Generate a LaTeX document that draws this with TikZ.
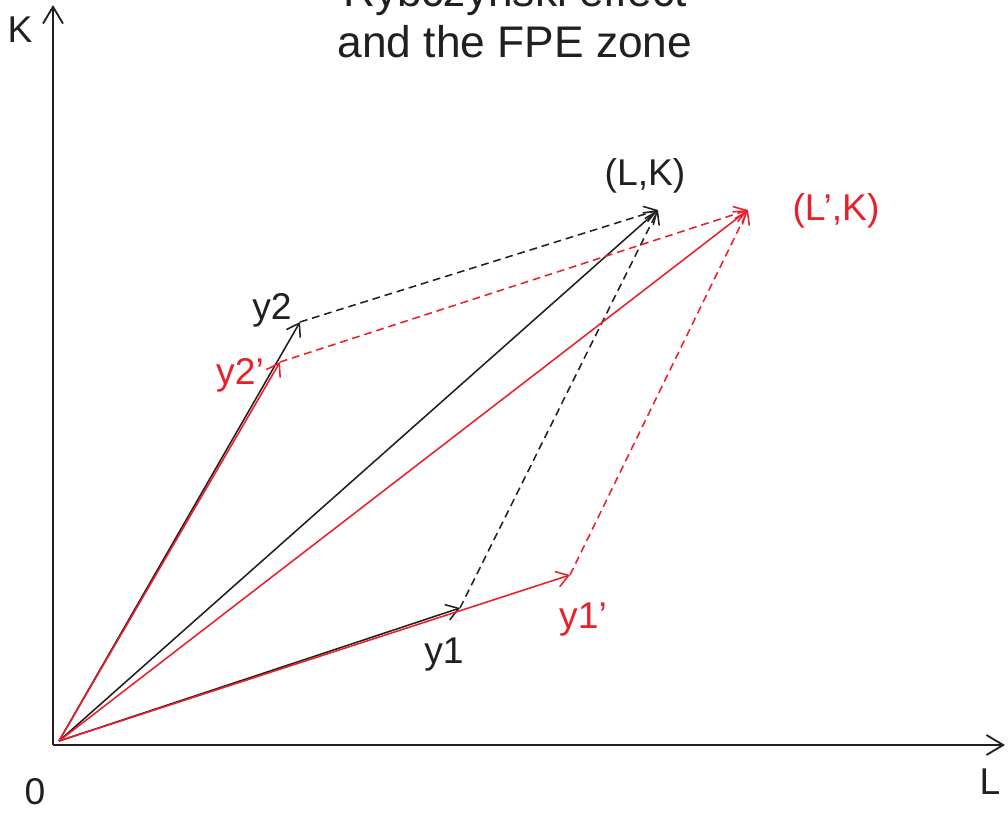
\documentclass[tikz,border=0pt]{standalone}
\usepackage{fontspec}
\setmainfont{Liberation Sans}
\usetikzlibrary{arrows.meta}
\definecolor{rbink}{HTML}{231F20}
\definecolor{rbred}{HTML}{E8202A}
\tikzset{
  axis/.style   ={line width=1.3pt,draw=rbink,-{Straight Barb[length=4.2mm,width=5mm]}},
  vec/.style    ={line width=1.1pt,draw=rbink,-{Straight Barb[length=3mm,width=4mm]}},
  vecred/.style ={vec,draw=rbred},
  dvec/.style   ={vec,dash pattern=on 5.5pt off 3.5pt},
  dvecred/.style={dvec,draw=rbred},
  lbl/.style    ={font=\fontsize{26.5}{31}\selectfont,text=rbink,inner sep=0pt},
  lblred/.style ={lbl,text=rbred},
}
\begin{document}
\begin{tikzpicture}[x=0.025cm,y=-0.025cm]
  \useasboundingbox (0,0) rectangle (1008,812);
  \clip (0,0) rectangle (1008,812);

  % axes
  \coordinate (orig) at (53,745);
  \coordinate (ktop) at (53,5);
  \coordinate (lend) at (1005,745);
  \draw[axis] (orig) -- (ktop);
  \draw[axis] (orig) -- (lend);

  % endowment and output points
  \coordinate (o)    at (59,741);
  \coordinate (y1)   at (460,608);
  \coordinate (y2)   at (300,322);
  \coordinate (lk)   at (658,210);
  \coordinate (y1p)  at (570,575);
  \coordinate (y2p)  at (280,362);
  \coordinate (lpk)  at (748,210);

  % before
  \draw[vec]  (o) -- (y1);
  \draw[vec]  (o) -- (y2);
  \draw[vec]  (o) -- (lk);
  \draw[dvec] (y1) -- (lk);
  \draw[dvec] (y2) -- (lk);
  % after the rise in L
  \draw[vecred]  (o) -- (y1p);
  \draw[vecred]  (o) -- (y2p);
  \draw[vecred]  (o) -- (lpk);
  \draw[dvecred] (y1p) -- (lpk);
  \draw[dvecred] (y2p) -- (lpk);

  % labels
  \node[lbl] (klbl) at (20,30) {K};
  \node[lbl] (zlbl) at (35,792) {0};
  \node[lbl] (llbl) at (990,782) {L};
  \node[lbl] (y2lbl) at (272,310) {y2};
  \node[lblred] (y2plbl) at (240,375) {y2’};
  \node[lbl] (y1lbl) at (444,655) {y1};
  \node[lblred] (y1plbl) at (583,620) {y1’};
  \node[lbl] (lklbl) at (645,176) {(L,K)};
  \node[lblred] (lpklbl) at (836,211) {(L’,K)};

  \node[lbl,font=\fontsize{31.5}{36}\selectfont,align=center,anchor=south] (title) at (515,58)
        {Rybczynski effect\\and the FPE zone};
\end{tikzpicture}
\end{document}
